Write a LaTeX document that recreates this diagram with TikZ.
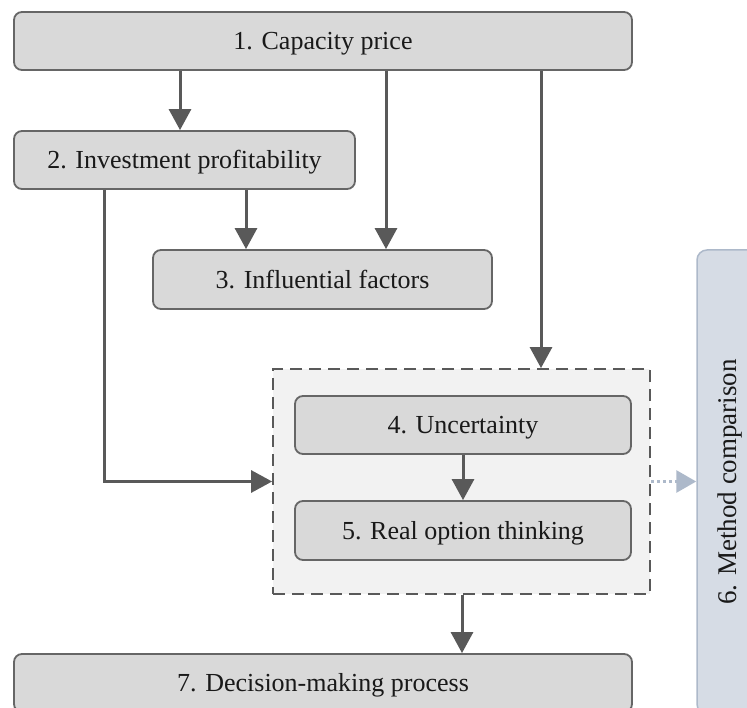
\documentclass[tikz,border=0pt]{standalone}
\usepackage{fontspec}
\setmainfont{Liberation Serif}
\usetikzlibrary{arrows.meta}
\definecolor{boxfill}{HTML}{D9D9D9}
\definecolor{boxline}{HTML}{666666}
\definecolor{arrowc}{HTML}{595959}
\definecolor{groupfill}{HTML}{F2F2F2}
\definecolor{sidefill}{HTML}{D6DCE5}
\definecolor{sideline}{HTML}{ADB9CA}
\tikzset{
  stepbox/.style={draw=boxline, fill=boxfill, line width=1.8pt, rounded corners=8pt,
    inner sep=0pt, font=\fontsize{26}{30}\selectfont, text=black!90,
    text height=17.2pt, text depth=0pt},
  groupbox/.style={draw=arrowc, fill=groupfill, line width=1.8pt, dash pattern=on 12pt off 7pt,
    inner sep=0pt},
  sidebox/.style={draw=sideline, fill=sidefill, line width=1.5pt, rounded corners=10pt,
    inner sep=0pt, font=\fontsize{27}{31}\selectfont, text=black!90,
    text height=17.9pt, text depth=0pt},
  arr/.style={draw=arrowc, line width=3pt, -{Triangle[length=21pt,width=22pt]}},
  dotarr/.style={draw=sideline, line width=3pt, dash pattern=on 3pt off 3pt,
    -{Triangle[length=20pt,width=22pt]}},
}
\begin{document}
\begin{tikzpicture}[x=1pt,y=-1pt]
\useasboundingbox (0,0) rectangle (747,708);
\clip (0,0) rectangle (747,708);

% steps of the study
\node[stepbox, minimum width=618pt, minimum height=58pt] (b1) at (323,41) {1. Capacity price};
\node[stepbox, minimum width=341pt, minimum height=58pt] (b2) at (184.5,160) {2. Investment profitability};
\node[stepbox, minimum width=339pt, minimum height=59pt] (b3) at (322.5,279.5) {3. Influential factors};
\node[groupbox, minimum width=377pt, minimum height=225pt] (grp) at (461.5,481.5) {};
\node[stepbox, minimum width=336pt, minimum height=58pt] (b4) at (463,425) {4. Uncertainty};
\node[stepbox, minimum width=336pt, minimum height=59pt] (b5) at (463,530.5) {5. Real option thinking};
\node[stepbox, minimum width=618pt, minimum height=58pt] (b7) at (323,683) {7. Decision-making process};
\node[sidebox, rotate=90, minimum width=464pt, minimum height=62pt] (b6) at (728,482) {6. Method comparison};

% x positions of the vertical connectors
\coordinate (xa) at (180,0);
\coordinate (xb) at (246,0);
\coordinate (xc) at (386,0);
\coordinate (xd) at (541,0);
\coordinate (xe) at (104,0);
\coordinate (xf) at (463,0);
\coordinate (xg) at (462,0);

\draw[arr] (b1.south -| xa) -- (b2.north -| xa);
\draw[arr] (b2.south -| xb) -- (b3.north -| xb);
\draw[arr] (b1.south -| xc) -- (b3.north -| xc);
\draw[arr] (b1.south -| xd) -- (grp.north -| xd);
\draw[arr] (b2.south -| xe) |- (grp.west);
\draw[arr] (b4.south -| xf) -- (b5.north -| xf);
\draw[arr] (grp.south -| xg) -- (b7.north -| xg);
\draw[dotarr] (grp.east) -- (grp.east -| b6.north);
\end{tikzpicture}
\end{document}
